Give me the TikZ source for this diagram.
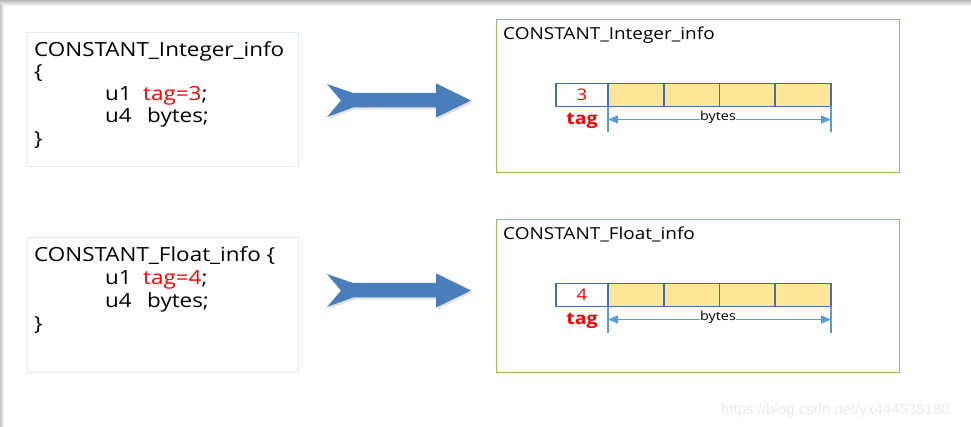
\documentclass[tikz,border=0pt]{standalone}
\usepackage{fontspec}
\setmainfont{Open Sans}
\newfontfamily\comic[FakeStretch=1.15]{Open Sans}
\newfontfamily\wmfont{Liberation Sans}
\usetikzlibrary{arrows.meta}
\definecolor{arrowblue}{HTML}{4A7EBB}
\definecolor{cellborder}{HTML}{3E72AC}
\definecolor{cellfill}{HTML}{FFE699}
\definecolor{dimblue}{HTML}{5B9BD5}
\definecolor{boxgreen}{HTML}{96C05C}
\definecolor{leftborder}{HTML}{E2E9F1}
\definecolor{tagred}{HTML}{FF0000}
\definecolor{wmgray}{HTML}{ECECEC}
\tikzset{
  codebox/.style={draw=leftborder, line width=0.8pt, fill=white},
  greenbox/.style={draw=boxgreen, line width=1.1pt, fill=white},
  codeline/.style={anchor=base west, inner sep=0pt, font=\comic\fontsize{19.5}{22}\selectfont},
  titletext/.style={anchor=base west, inner sep=0pt, font=\comic\fontsize{16.5}{19}\selectfont},
  tagcell/.style={draw=cellborder, line width=1.8pt, fill=white, minimum width=52pt, minimum height=23pt, inner sep=0pt, outer sep=0pt, anchor=north west, text=tagred, font=\comic\fontsize{16}{18}\selectfont},
  bytecell/.style={draw=cellborder, line width=1.8pt, fill=cellfill, minimum width=55.75pt, minimum height=23pt, inner sep=0pt, outer sep=0pt, anchor=north west},
  taglabel/.style={text=tagred, inner sep=0pt, font=\comic\bfseries\fontsize{17}{19}\selectfont},
  dimline/.style={draw=dimblue, line width=1.1pt},
  dimarrow/.style={draw=dimblue, line width=1.1pt, {Triangle[length=10pt,width=8pt]}-{Triangle[length=10pt,width=8pt]}},
  bytestext/.style={fill=white, inner sep=0.5pt, font=\comic\fontsize{12.5}{14}\selectfont},
  bigarrow/.style={fill=arrowblue, draw=none},
  arrowshadow/.style={fill=black, opacity=0.12, draw=none},
}
\begin{document}
\begin{tikzpicture}[x=1pt,y=-1pt]
\useasboundingbox (0,0) rectangle (971,427);
\fill[white] (0,0) rectangle (971,427);
% top shadow band and left edge
\shade[top color=gray!55, bottom color=white] (0,0) rectangle (971,6);
\shade[left color=gray!45, right color=white] (0,5) rectangle (4,427);

% ---------- Row 1 ----------
\node[codebox, minimum width=271pt, minimum height=134pt, anchor=north west] (lb1) at (27,32) {};
\node[codeline] (l1a) at (34,56.5) {CONSTANT\_Integer\_info};
\node[codeline] (l1b) at (34,79) {\{};
\node[codeline] (l1c) at (105,100.5) {u1};
\node[codeline] (l1d) at (143,100.5) {\textcolor{tagred}{tag=3};};
\node[codeline] (l1e) at (105,123) {u4};
\node[codeline] (l1f) at (147,123) {bytes;};
\node[codeline] (l1g) at (34,146) {\}};

% arrow 1
\begin{scope}[shift={(1.5,2)}]
\path[arrowshadow] (327,84) -- (353,93) -- (436,93) -- (436,83.3) -- (471,100.5) -- (436,117.5) -- (436,107.5) -- (353,107.5) -- (327,117) -- (341,100.5) -- cycle;
\end{scope}
\path[bigarrow] (327,84) -- (353,93) -- (436,93) -- (436,83.3) -- (471,100.5) -- (436,117.5) -- (436,107.5) -- (353,107.5) -- (327,117) -- (341,100.5) -- cycle;

\node[greenbox, minimum width=403pt, minimum height=153pt, anchor=north west] (rb1) at (496,19) {};
\node[titletext] (rt1) at (503,40) {CONSTANT\_Integer\_info};
\node[tagcell] (c10) at (556,83.5) {3};
\node[bytecell] (c11) at (608,83.5) {};
\node[bytecell] (c12) at (663.75,83.5) {};
\node[bytecell] (c13) at (719.5,83.5) {};
\node[bytecell] (c14) at (775.25,83.5) {};
\node[taglabel] (tg1) at (582,121) {tag};
\coordinate (d1a) at (608,132.5);
\coordinate (d1b) at (831,132.5);
\draw[dimline] (c11.south west) -- (d1a);
\draw[dimline] (c14.south east) -- (d1b);
\draw[dimarrow] (608,119.5) -- (831,119.5);
\node[bytestext] (bt1) at (718,117.5) {bytes};

% ---------- Row 2 ----------
\node[codebox, minimum width=271pt, minimum height=135pt, anchor=north west] (lb2) at (27,237) {};
\node[codeline] (l2a) at (34,261.5) {CONSTANT\_Float\_info \{};
\node[codeline] (l2c) at (105,284.5) {u1};
\node[codeline] (l2d) at (143,284.5) {\textcolor{tagred}{tag=4};};
\node[codeline] (l2e) at (105,307.5) {u4};
\node[codeline] (l2f) at (147,307.5) {bytes;};
\node[codeline] (l2g) at (34,330.5) {\}};

% arrow 2
\begin{scope}[shift={(1.5,192)}]
\path[arrowshadow] (327,84) -- (353,93) -- (436,93) -- (436,83.3) -- (471,100.5) -- (436,117.5) -- (436,107.5) -- (353,107.5) -- (327,117) -- (341,100.5) -- cycle;
\end{scope}
\begin{scope}[shift={(0,190)}]
\path[bigarrow] (327,84) -- (353,93) -- (436,93) -- (436,83.3) -- (471,100.5) -- (436,117.5) -- (436,107.5) -- (353,107.5) -- (327,117) -- (341,100.5) -- cycle;
\end{scope}

\node[greenbox, minimum width=403pt, minimum height=153pt, anchor=north west] (rb2) at (496,219) {};
\node[titletext] (rt2) at (503,240) {CONSTANT\_Float\_info};
\node[tagcell] (c20) at (556,283.5) {4};
\node[bytecell] (c21) at (608,283.5) {};
\node[bytecell] (c22) at (663.75,283.5) {};
\node[bytecell] (c23) at (719.5,283.5) {};
\node[bytecell] (c24) at (775.25,283.5) {};
\node[taglabel] (tg2) at (582,321) {tag};
\coordinate (d2a) at (608,333);
\coordinate (d2b) at (831,333);
\draw[dimline] (c21.south west) -- (d2a);
\draw[dimline] (c24.south east) -- (d2b);
\draw[dimarrow] (608,319.5) -- (831,319.5);
\node[bytestext] (bt2) at (718,317.5) {bytes};

% watermark
\node[anchor=base west, inner sep=0pt, text=wmgray, font=\wmfont\fontsize{15}{17}\selectfont] (wm) at (721,414) {https://blog.csdn.net/yx444535180};
\end{tikzpicture}
\end{document}
